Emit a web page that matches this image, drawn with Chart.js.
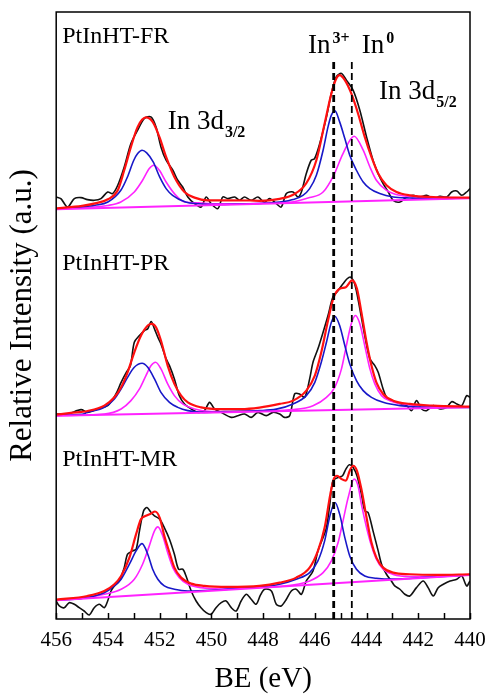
<!DOCTYPE html>
<html><head><meta charset="utf-8">
<script src="https://cdn.jsdelivr.net/npm/chart.js@4.4.1/dist/chart.umd.min.js"></script>
<style>html,body{margin:0;padding:0;background:#fff;}canvas{display:block;}</style>
</head><body>
<canvas id="c" width="489" height="696"></canvas>
<script>
// ---------- DATA: [binding energy (eV), intensity (a.u.)] ----------
const xTicksMin = 440, xTicksMax = 456;
const in3Line = 445.27;   // In3+ position (eV)
const in0Line = 444.57;   // In0 position (eV)
const lineTopI = 560;

// PtInHT-FR
const frBaseline = [[456,409],[440,420]];
const frBlack = [[456.0,421.3],[455.82,419.7],[455.56,411.3],[455.3,419.7],[455.04,420.7],[454.79,418.7],[454.53,418],[454.27,419.7],[454.01,426.3],[453.82,424.7],[453.62,433],[453.37,451.3],[453.11,474.7],[452.85,488],[452.59,499.7],[452.34,501.3],[452.14,491.3],[451.95,471.3],[451.75,458],[451.49,448],[451.3,438],[451.11,431.3],[450.91,421.3],[450.65,414.7],[450.4,411.3],[450.2,421.3],[450.01,414.7],[449.75,409.7],[449.56,421.3],[449.36,419.7],[449.1,421.3],[448.91,418],[448.72,421.3],[448.46,418],[448.2,421.3],[447.95,416],[447.75,419.7],[447.49,414.7],[447.3,411.3],[447.1,424.7],[446.84,426.3],[446.65,421.3],[446.52,426.3],[446.33,444.7],[446.14,458],[446.01,459.7],[445.81,474.7],[445.55,501.3],[445.36,524.7],[445.17,541.3],[444.97,544.7],[444.78,538],[444.52,528],[444.26,508],[444.0,481.3],[443.75,458],[443.55,444.7],[443.36,434.7],[443.16,426.3],[442.97,418],[442.71,416.3],[442.45,421.3],[442.2,423],[441.94,421.3],[441.68,423],[441.42,419.7],[441.16,422],[440.9,421.3],[440.71,426.3],[440.51,427.3],[440.32,423],[440.13,426.3],[440.0,429.7]];
const frIn3 = [[456,409.5],[455,411.3],[454.5,413],[454,416.3],[453.5,428],[453.25,441],[453,458],[452.85,464.7],[452.68,468],[452.5,465.3],[452.25,456.3],[452,441.3],[451.75,429.7],[451.5,423],[451,416.3],[450.5,414.5],[450,413.8],[449,414.3],[448,415],[447.36,416.3],[446.84,418.7],[446.46,423],[446.2,429.7],[445.94,443],[445.68,468],[445.49,491.3],[445.36,503],[445.22,507.3],[445.04,496.3],[444.84,479.7],[444.65,463],[444.39,448],[444.13,436.3],[443.87,429.7],[443.49,424.7],[442.97,421.3],[442.33,420.3],[441.68,419.7],[440,420.3]];
const frIn0 = [[456,409.5],[455,410.7],[454,412.9],[453.5,416.3],[452.98,426.3],[452.66,438],[452.4,449.7],[452.23,453],[452.01,448],[451.75,436.3],[451.43,424.7],[451.04,416.3],[450.5,415.5],[450,414.6],[449,414.6],[448,415],[447,415.9],[446.2,420.7],[445.68,426.3],[445.27,443],[444.91,464.7],[444.48,482],[444.13,468],[443.87,451.3],[443.62,438],[443.23,428],[442.71,423],[441.94,421.3],[441.03,420.7],[440,420.5]];
const frFit = [[456,410],[455,412.5],[454.5,415],[454,419],[453.62,428],[453.37,448],[453.11,471.3],[452.85,491.3],[452.53,500.7],[452.27,496.3],[452.01,481.3],[451.75,461.3],[451.43,441.3],[451.04,426.3],[450.65,420.7],[450.14,418],[449.36,418],[448.5,417.8],[448.14,417.5],[447.36,419.5],[446.84,423.5],[446.33,435],[445.94,458],[445.62,494.7],[445.36,524.7],[445.17,539.7],[445.04,543],[444.84,538],[444.59,524.7],[444.33,504.7],[444.07,481.3],[443.81,461.3],[443.55,444.7],[443.23,433],[442.84,426.3],[442.33,423],[441.42,421.3],[440,420.7]];

// PtInHT-PR
const prBaseline = [[456,203],[440,211.5]];
const prBlack = [[456.0,204.7],[455.56,204.7],[455.04,209],[454.79,206.3],[454.4,209.7],[454.01,213],[453.69,224.7],[453.49,236.3],[453.3,245.7],[453.13,253],[452.98,276.3],[452.78,283],[452.59,288],[452.46,289.7],[452.33,297],[452.2,289.7],[452.07,281.3],[451.95,274.7],[451.75,259.7],[451.62,253],[451.43,239.7],[451.24,223],[451.04,214.7],[450.78,209.7],[450.52,206.3],[450.27,208],[450.07,216.3],[449.88,209.7],[449.62,206.3],[449.23,201.3],[448.98,203],[448.72,204.7],[448.46,201.3],[448.2,206.3],[447.88,203],[447.62,206.3],[447.36,204.7],[447.17,201.3],[446.97,203],[446.78,224.7],[446.59,224.7],[446.39,221.3],[446.2,239.7],[446.07,256.3],[445.88,269.7],[445.68,286.3],[445.49,303],[445.3,321.3],[445.1,328],[444.91,334.7],[444.75,339.7],[444.62,341.3],[444.46,334.7],[444.26,309.7],[444.07,283],[443.87,259.7],[443.68,253],[443.55,246.3],[443.36,229.7],[443.23,221.3],[443.04,218],[442.84,216.3],[442.65,214.7],[442.45,213],[442.26,208],[442.07,218],[441.87,209.7],[441.68,208],[441.42,213],[441.16,209.7],[440.9,211.3],[440.71,217],[440.51,214.7],[440.32,213],[440.13,223],[440.0,221.3]];
const prIn3 = [[456,203.3],[455,204.3],[454.79,206.3],[454.14,211.3],[453.75,219.7],[453.49,229.7],[453.24,241.3],[452.98,251.3],[452.68,255.3],[452.46,251.3],[452.2,239.7],[451.95,226.3],[451.62,216.3],[451.3,211.3],[450.91,208],[450.27,206.3],[449.5,207],[448.14,208],[447.49,209.5],[446.84,214.7],[446.33,223],[446,236.3],[445.75,256.3],[445.55,276.3],[445.36,296.3],[445.22,302],[445.04,293],[444.84,273],[444.65,254.7],[444.39,238],[444.13,228],[443.81,221.3],[443.36,216.3],[442.71,213],[441.68,211.3],[440,211.3]];
const prIn0 = [[456,203.2],[454.14,204.7],[453.49,209.7],[453.11,218],[452.78,229.7],[452.53,243],[452.33,253],[452.16,256.3],[451.95,249.7],[451.69,234.7],[451.43,223],[451.11,214.7],[450.65,209.7],[450,207],[449,207.2],[448,207.8],[446.84,209],[446.07,213],[445.55,221.3],[445.23,231.3],[444.97,249.7],[444.78,273],[444.59,294.7],[444.43,303],[444.26,294.7],[444.07,273],[443.87,249.7],[443.68,234.7],[443.42,223],[443.1,218],[442.58,214.7],[441.68,212.3],[440,211.8]];
const prFit = [[456,204],[455.43,205.7],[454.79,207.7],[454.14,213],[453.75,221.3],[453.49,231.3],[453.24,246.3],[452.98,266.3],[452.72,283],[452.46,293],[452.31,294.7],[452.14,291.3],[451.95,278],[451.69,253],[451.43,234.7],[451.17,223],[450.91,216.3],[450.4,211.3],[449.62,209.5],[448.85,209.5],[448.14,211],[447.36,214.7],[446.84,218],[446.33,228],[446,243],[445.75,266.3],[445.49,298],[445.27,321.3],[445.04,329.7],[444.8,331.3],[444.56,338],[444.37,329.7],[444.2,306.3],[444,276.3],[443.81,253],[443.62,236.3],[443.36,224.7],[442.97,218],[442.33,214.7],[441.42,213],[440,212]];

// PtInHT-MR
const mrBaseline = [[456,18.7],[440,44]];
const mrBlack = [[456.0,18],[455.88,13],[455.69,11.3],[455.5,16.3],[455.3,14.7],[455.11,11.3],[454.92,8],[454.72,4],[454.53,11.3],[454.33,14.7],[454.14,11.3],[454.01,18],[453.88,28],[453.75,33],[453.56,38],[453.37,51.3],[453.24,64.7],[453.04,68],[452.91,69.7],[452.78,88],[452.62,108],[452.49,111.3],[452.33,106.3],[452.2,103],[452.0,99.7],[451.82,91.3],[451.62,79.7],[451.43,64.7],[451.27,49.7],[451.11,49.7],[450.98,43],[450.78,28],[450.59,18],[450.4,11.3],[450.2,6.3],[450.01,4.7],[449.82,11.3],[449.62,16.3],[449.43,18],[449.23,11.3],[449.04,8],[448.85,18],[448.65,24.7],[448.46,19.7],[448.27,14.7],[448.1,24],[447.94,29.7],[447.68,28],[447.49,14.7],[447.3,13],[447.1,19.7],[446.91,28],[446.72,29.7],[446.52,24.7],[446.33,38],[446.07,48],[445.88,68],[445.68,81.3],[445.55,91.3],[445.42,114.7],[445.3,138],[445.1,141.3],[444.93,143],[444.8,149.7],[444.67,154],[444.52,151.3],[444.37,143],[444.2,124.7],[444.07,108],[443.94,106.3],[443.75,88],[443.55,68],[443.42,54.7],[443.23,44.7],[443.04,38],[442.91,33],[442.71,29.7],[442.52,24.7],[442.33,23],[442.07,31.3],[441.81,38],[441.62,31.3],[441.42,23],[441.23,31.3],[441.03,34.7],[440.77,38],[440.51,39.7],[440.32,43],[440.13,33],[440.0,38]];
const mrIn3 = [[456,19],[455,20.6],[454.14,26.3],[453.75,33],[453.49,39.7],[453.17,54.7],[452.91,68],[452.68,75.3],[452.46,64.7],[452.27,49.7],[452.07,39.7],[451.82,33],[451.43,29.7],[450.91,28],[450,28.7],[449,30.5],[448.14,32],[447.36,34.7],[446.72,39.7],[446.2,46.3],[445.88,58],[445.62,78],[445.4,104.7],[445.22,116.3],[445.04,104.7],[444.84,81.3],[444.65,63],[444.39,49.7],[444.07,43],[443.62,40.7],[442.97,39.8],[441.68,41.6],[440,44.2]];
const mrIn0 = [[456,18.9],[455,20.8],[454.14,24.7],[453.49,29.7],[452.98,39.7],[452.66,54.7],[452.4,73],[452.2,88],[452.07,92],[451.88,83],[451.69,66.3],[451.49,51.3],[451.24,41.3],[450.91,34.7],[450.4,31.3],[449.62,30],[449,30.5],[448.14,31.5],[446.84,34],[446.2,38],[445.68,46.3],[445.36,58],[445.1,76.3],[444.91,98],[444.71,121.3],[444.48,139.7],[444.33,133],[444.2,114.7],[444,91.3],[443.81,73],[443.62,59.7],[443.36,49.7],[442.97,44.5],[442.33,42.5],[441.68,42.5],[440,44.3]];
const mrFit = [[456,19.3],[454.79,23],[454.14,28],[453.75,34.7],[453.49,43],[453.17,61.3],[452.91,84.7],[452.72,99.7],[452.53,103],[452.33,105.3],[452.18,107.3],[452.0,101.3],[451.82,83],[451.62,66.3],[451.43,51.3],[451.17,41.3],[450.78,35.3],[450.27,33],[449.36,32],[448.14,33],[447.36,36.3],[446.72,41.3],[446.2,51.3],[445.88,68],[445.62,91.3],[445.4,124.7],[445.27,139.7],[445.14,143],[444.97,139.7],[444.8,138],[444.65,148],[444.52,153],[444.37,148],[444.2,129.7],[444.0,101.3],[443.81,76.3],[443.62,61.3],[443.36,51.3],[442.97,46.3],[442.33,44.7],[441.29,44],[440,44.7]];

// ---------- STYLE ----------
const FONT = "'Liberation Serif', 'Times New Roman', serif";
const C_BLACK = '#111111', C_RED = '#ff1010', C_BLUE = '#1818c8', C_MAG = '#ff22ff';

const toPts = arr => arr.slice().sort((a, b) => a[0] - b[0]).map(p => ({x: p[0], y: p[1]}));
const smoothDs = (arr, color, w, order) => ({data: toPts(arr), borderColor: color, borderWidth: w, pointRadius: 0, fill: false, cubicInterpolationMode: 'monotone', order});
const rawDs = (arr, order) => ({data: toPts(arr), borderColor: C_BLACK, borderWidth: 1.6, pointRadius: 0, fill: false, tension: 0.3, order});
const baseDs = (arr, order) => ({data: toPts(arr), borderColor: C_MAG, borderWidth: 2, pointRadius: 0, fill: false, tension: 0, order});
const vline = (be, w) => ({data: [{x: be, y: 0}, {x: be, y: lineTopI}], borderColor: '#000', borderWidth: w, borderDash: [7, 4], pointRadius: 0, fill: false, tension: 0, order: 0});

const datasets = [];
[[frBlack, frIn3, frIn0, frBaseline, frFit], [prBlack, prIn3, prIn0, prBaseline, prFit], [mrBlack, mrIn3, mrIn0, mrBaseline, mrFit]].forEach(([bk, b3, b0, bl, ft]) => {
  datasets.push(rawDs(bk, 6));
  datasets.push(smoothDs(b3, C_BLUE, 1.6, 4));
  datasets.push(smoothDs(b0, C_MAG, 1.6, 4));
  datasets.push(baseDs(bl, 3));
  datasets.push(smoothDs(ft, C_RED, 2.2, 2));
});
datasets.push(vline(in3Line, 2.8));
datasets.push(vline(in0Line, 1.8));

// text annotations anchored in data coordinates
const labels = [
  {be: 455.77, i: 575, text: 'PtInHT-FR', size: 24},
  {be: 455.77, i: 348.5, text: 'PtInHT-PR', size: 24},
  {be: 455.77, i: 153, text: 'PtInHT-MR', size: 24},
  {be: 446.26, i: 565, text: 'In', size: 27, sup: '3+'},
  {be: 444.19, i: 565, text: 'In', size: 27, sup: '0'},
  {be: 443.52, i: 518.7, text: 'In 3d', size: 27, sub: '5/2'},
  {be: 451.69, i: 488.7, text: 'In 3d', size: 27, sub: '3/2'}
];

const decor = {
  id: 'decor',
  afterDatasetsDraw(chart) {
    const {ctx, chartArea: a, scales: {x, y}} = chart;
    ctx.save();
    ctx.strokeStyle = '#000';
    ctx.lineWidth = 1.5;
    ctx.strokeRect(a.left, a.top, a.right - a.left, a.bottom - a.top);
    x.ticks.forEach(t => {
      const px = Math.round(x.getPixelForValue(t.value)) + 0.5;
      ctx.beginPath(); ctx.moveTo(px, a.bottom); ctx.lineTo(px, a.bottom - 6); ctx.stroke();
    });
    ctx.fillStyle = '#000';
    ctx.textAlign = 'left';
    ctx.textBaseline = 'alphabetic';
    labels.forEach(l => {
      const px = x.getPixelForValue(l.be), py = y.getPixelForValue(l.i);
      ctx.font = l.size + 'px ' + FONT;
      ctx.fillText(l.text, px, py);
      const w = ctx.measureText(l.text).width;
      if (l.sup) { ctx.font = 'bold 16px ' + FONT; ctx.fillText(l.sup, px + w + 2, py - 10); }
      if (l.sub) { ctx.font = 'bold 16px ' + FONT; ctx.fillText(l.sub, px + w + 1, py + 8); }
    });
    ctx.restore();
  }
};

new Chart(document.getElementById('c'), {
  type: 'line',
  data: {datasets},
  plugins: [decor],
  options: {
    responsive: false,
    animation: false,
    devicePixelRatio: 1,
    layout: {padding: {left: 4, right: 19, top: 12, bottom: -1}},
    plugins: {legend: {display: false}, tooltip: {enabled: false}},
    scales: {
      x: {
        type: 'linear', reverse: true, min: xTicksMin, max: xTicksMax,
        afterFit: s => { s.paddingLeft = 0; s.paddingRight = 0; },
        grid: {display: false, drawTicks: false},
        border: {display: false},
        ticks: {stepSize: 1, autoSkip: false, maxRotation: 0, padding: 9, color: '#000',
                font: {family: FONT, size: 21},
                callback: v => (v % 2 === 0 ? String(v) : '')},
        title: {display: true, text: 'BE (eV)', color: '#000', font: {family: FONT, size: 29}, padding: {top: 0, bottom: 0}}
      },
      y: {
        min: 0, max: 606,
        grid: {display: false, drawTicks: false},
        border: {display: false},
        ticks: {display: false},
        title: {display: true, text: 'Relative Intensity (a.u.)', color: '#000', font: {family: FONT, size: 31}, padding: {top: 0, bottom: 15}}
      }
    }
  }
});
</script>
</body></html>
